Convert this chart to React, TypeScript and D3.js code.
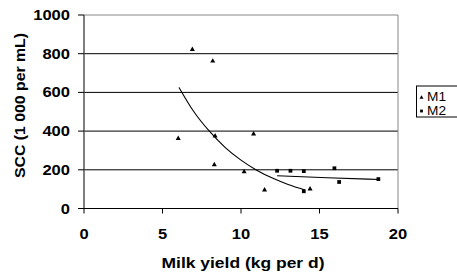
import React from "react";
import * as d3 from "d3";

// M1 (triangles)
const m1Yield = [6.0, 6.9, 8.2, 8.35, 8.3, 10.8, 10.2, 11.5, 14.4];
const m1Scc = [362, 822, 762, 375, 226, 385, 190, 96, 101];
// M2 (squares)
const m2Yield = [12.3, 13.15, 14.0, 14.0, 15.95, 16.25, 18.75];
const m2Scc = [195, 195, 193, 89, 208, 137, 152];

// trend lines
const m1TrendX = [6.05, 7, 8, 9, 10, 11, 12, 13, 14.08];
const m1TrendY = [626, 500, 398, 315, 250, 198, 157, 124, 96];
const m2TrendX = [12.3, 15.5, 18.85];
const m2TrendY = [169, 159, 150];

const xTicks = [0, 5, 10, 15, 20];
const yTicks = [0, 200, 400, 600, 800, 1000];
const seriesNames = ["M1", "M2"];

const FONT = "'Liberation Sans', Arial, sans-serif";

export default function App() {
  const x = d3.scaleLinear().domain([0, 20]).range([84, 398]);
  const y = d3.scaleLinear().domain([0, 1000]).range([208.5, 15]);

  const line = d3
    .line<[number, number]>()
    .x((d) => x(d[0]))
    .y((d) => y(d[1]))
    .curve(d3.curveMonotoneX);

  const m1Trend = m1TrendX.map((v, i) => [v, m1TrendY[i]] as [number, number]);
  const m2Trend = m2TrendX.map((v, i) => [v, m2TrendY[i]] as [number, number]);

  const tri = d3.symbol().type(d3.symbolTriangle).size(11)();
  const sq = d3.symbol().type(d3.symbolSquare).size(14)();

  return (
    <svg
      width={457}
      height={274}
      style={{ position: "absolute", left: 0, top: 0, background: "#fff" }}
    >
      {/* gridlines */}
      {yTicks.slice(1).map((t) => (
        <line
          key={"g" + t}
          x1={x(0)}
          x2={x(20)}
          y1={y(t)}
          y2={y(t)}
          stroke={t === 1000 ? "#888" : "#000"}
          strokeWidth={1}
        />
      ))}
      {/* right border */}
      <line x1={x(20)} x2={x(20)} y1={y(1000)} y2={y(0)} stroke="#888" strokeWidth={1} />
      {/* y axis */}
      <line x1={x(0)} x2={x(0)} y1={y(1000)} y2={y(0)} stroke="#555" strokeWidth={1.5} />
      {yTicks.map((t) => (
        <g key={"y" + t}>
          <line x1={78} x2={x(0)} y1={y(t)} y2={y(t)} stroke="#000" />
          <text
            x={70}
            y={y(t) + 5}
            textAnchor="end"
            fontFamily={FONT}
            fontWeight="bold"
            fontSize={14.5}
            textLength={String(t).length * 9.2}
            lengthAdjust="spacingAndGlyphs"
          >
            {t}
          </text>
        </g>
      ))}
      {/* x axis */}
      <line x1={x(0)} x2={x(20)} y1={y(0)} y2={y(0)} stroke="#000" strokeWidth={1} />
      {xTicks.map((t) => (
        <g key={"x" + t}>
          <line x1={x(t)} x2={x(t)} y1={y(0)} y2={y(0) + 5} stroke="#000" />
          <text
            x={x(t)}
            y={239}
            textAnchor="middle"
            fontFamily={FONT}
            fontWeight="bold"
            fontSize={14.5}
            textLength={String(t).length * 9.2}
            lengthAdjust="spacingAndGlyphs"
          >
            {t}
          </text>
        </g>
      ))}
      {/* trend lines */}
      <path d={line(m1Trend) || ""} fill="none" stroke="#000" strokeWidth={1.1} />
      <path d={line(m2Trend) || ""} fill="none" stroke="#000" strokeWidth={1.1} />
      {/* points */}
      {m1Yield.map((v, i) => (
        <path key={"a" + i} d={tri || ""} transform={`translate(${x(v)},${y(m1Scc[i])})`} fill="#000" />
      ))}
      {m2Yield.map((v, i) => (
        <path key={"b" + i} d={sq || ""} transform={`translate(${x(v)},${y(m2Scc[i])})`} fill="#000" />
      ))}
      {/* axis titles */}
      <text
        x={243}
        y={267.5}
        textAnchor="middle"
        fontFamily={FONT}
        fontWeight="bold"
        fontSize={15}
        textLength={163}
        lengthAdjust="spacingAndGlyphs"
      >
        Milk yield (kg per d)
      </text>
      <text
        transform="translate(25,105.5) rotate(-90)"
        textAnchor="middle"
        fontFamily={FONT}
        fontWeight="bold"
        fontSize={14.5}
        textLength={145}
        lengthAdjust="spacingAndGlyphs"
      >
        SCC (1 000 per mL)
      </text>
      {/* legend */}
      <rect x={416.5} y={86} width={60} height={31} fill="#fff" stroke="#000" strokeWidth={1} />
      {seriesNames.map((s, i) => (
        <g key={s} transform={`translate(0,${i * 13.5})`}>
          <path
            d={(i === 0 ? d3.symbol().type(d3.symbolTriangle).size(7)() : d3.symbol().type(d3.symbolSquare).size(8)()) || ""}
            transform={`translate(421.5,${97.5})`}
            fill="#000"
          />
          <text
            x={427}
            y={101}
            fontFamily={FONT}
            fontSize={12}
            textLength={19}
            lengthAdjust="spacingAndGlyphs"
          >
            {s}
          </text>
        </g>
      ))}
    </svg>
  );
}
